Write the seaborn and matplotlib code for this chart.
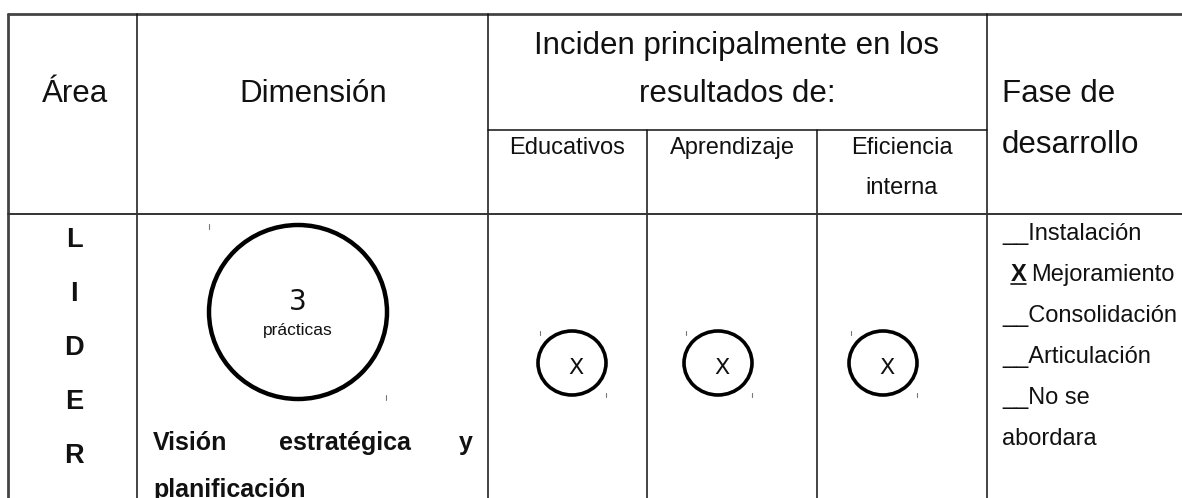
import matplotlib
matplotlib.use("Agg")
import matplotlib.pyplot as plt
from matplotlib.patches import Ellipse
import seaborn as sns

# ---- data ----
area_title = "Área"
dimension_title = "Dimensión"
incidence_title = ["Inciden principalmente en los", "resultados de:"]
phase_title = ["Fase de", "desarrollo"]
result_cols = ["Educativos", "Aprendizaje", "Eficiencia\ninterna"]
incidence_marks = ["X", "X", "X"]
area_letters = ["L", "I", "D", "E", "R"]
practice_count = 3
practice_label = "prácticas"
dimension_words = ["Visión", "estratégica", "y"]
dimension_last = "planificación"
phases = ["Instalación", "Mejoramiento", "Consolidación", "Articulación", "No se", "abordara"]
selected_phase = "Mejoramiento"

sns.set_theme(style="white")
plt.rcParams["font.family"] = ["Liberation Sans", "DejaVu Sans"]

W, H = 1182, 498
fig = plt.figure(figsize=(W / 100, H / 100), dpi=100)
ax = fig.add_axes([0, 0, 1, 1])
ax.set_xlim(0, W)
ax.set_ylim(H, 0)
ax.axis("off")

lc = "#111111"
lw = 1.1
# grid lines
ax.plot([8, W], [14, 14], color="#444444", lw=2.0)
ax.plot([8, 8], [14, H], color="#444444", lw=2.0)
for x in [137, 488, 987]:
    ax.plot([x, x], [14, H], color=lc, lw=lw)
for x in [647, 817]:
    ax.plot([x, x], [130, H], color=lc, lw=lw)
ax.plot([488, 987], [130, 130], color=lc, lw=lw)
ax.plot([8, W], [214, 214], color="#333333", lw=1.4)

hfs = 22.5
tc = "#111111"
ax.text(75, 102, area_title, fontsize=hfs, ha="center", va="baseline", color=tc)
ax.text(313, 102, dimension_title, fontsize=hfs, ha="center", va="baseline", color=tc)
ax.text(737, 54, incidence_title[0], fontsize=hfs, ha="center", va="baseline", color=tc)
ax.text(737, 102, incidence_title[1], fontsize=hfs, ha="center", va="baseline", color=tc)
ax.text(1002, 102, phase_title[0], fontsize=hfs, ha="left", va="baseline", color=tc)
ax.text(1002, 153, phase_title[1], fontsize=hfs, ha="left", va="baseline", color=tc)

# sub headers
sfs = 17
col_centers = [567, 732, 902]
for cx, lab in zip(col_centers, result_cols):
    parts = lab.split("\n")
    for i, p in enumerate(parts):
        ax.text(cx, 154 + 40 * i, p, fontsize=sfs, ha="center", va="baseline", color=tc)

# area letters
for i, ch in enumerate(area_letters):
    ax.text(74, 247 + 54.0 * i, ch, fontsize=19.5, fontweight="bold", ha="center",
            va="baseline", color=tc)

# big circle with practice count
ax.add_patch(Ellipse((298, 312), 178, 174, fill=False, lw=3.2, ec="black"))
ax.text(298, 310, str(practice_count), fontsize=20, ha="center", va="baseline",
        family=["DejaVu Sans"], color=tc)
ax.text(298, 335, practice_label, fontsize=12.5, ha="center", va="baseline", color=tc)
ax.plot([209, 209], [224, 229], color="#777777", lw=0.8)
ax.plot([386, 386], [395, 400], color="#777777", lw=0.8)

# dimension name (justified)
bfs = 18
ax.text(153, 450, dimension_words[0], fontsize=bfs, fontweight="bold", ha="left", va="baseline", color=tc)
ax.text(345, 450, dimension_words[1], fontsize=bfs, fontweight="bold", ha="center", va="baseline", color=tc)
ax.text(473, 450, dimension_words[2], fontsize=bfs, fontweight="bold", ha="right", va="baseline", color=tc)
ax.text(153, 497, dimension_last, fontsize=bfs, fontweight="bold", ha="left", va="baseline", color=tc)

# incidence circles
circ_x = [572, 718, 883]
for cx, m in zip(circ_x, incidence_marks):
    ax.add_patch(Ellipse((cx, 363), 68, 64, fill=False, lw=2.6, ec="black"))
    ax.text(cx + 4, 374, m, fontsize=16, ha="center", va="baseline",
            family=["DejaVu Sans"], color=tc)
    ax.plot([cx - 32, cx - 32], [331, 335], color="#777777", lw=0.8)
    ax.plot([cx + 34, cx + 34], [393, 397], color="#777777", lw=0.8)

# phases
pfs = 17
base = 240
step = 41
for i, ph in enumerate(phases):
    y = base + step * i
    if ph == selected_phase:
        ax.text(1011, y, "X", fontsize=pfs, fontweight="bold", ha="left", va="baseline", color=tc)
        ax.plot([1011, 1026], [y + 3, y + 3], color=tc, lw=1.2)
        ax.text(1031, y, ph, fontsize=pfs, ha="left", va="baseline", color=tc)
    elif ph == "abordara":
        ax.text(1002, y, ph, fontsize=pfs, ha="left", va="baseline", color=tc)
    else:
        ax.text(1002, y, "__" + ph, fontsize=pfs, ha="left", va="baseline", color=tc)

fig.savefig("out.png", dpi=100, facecolor="white")
